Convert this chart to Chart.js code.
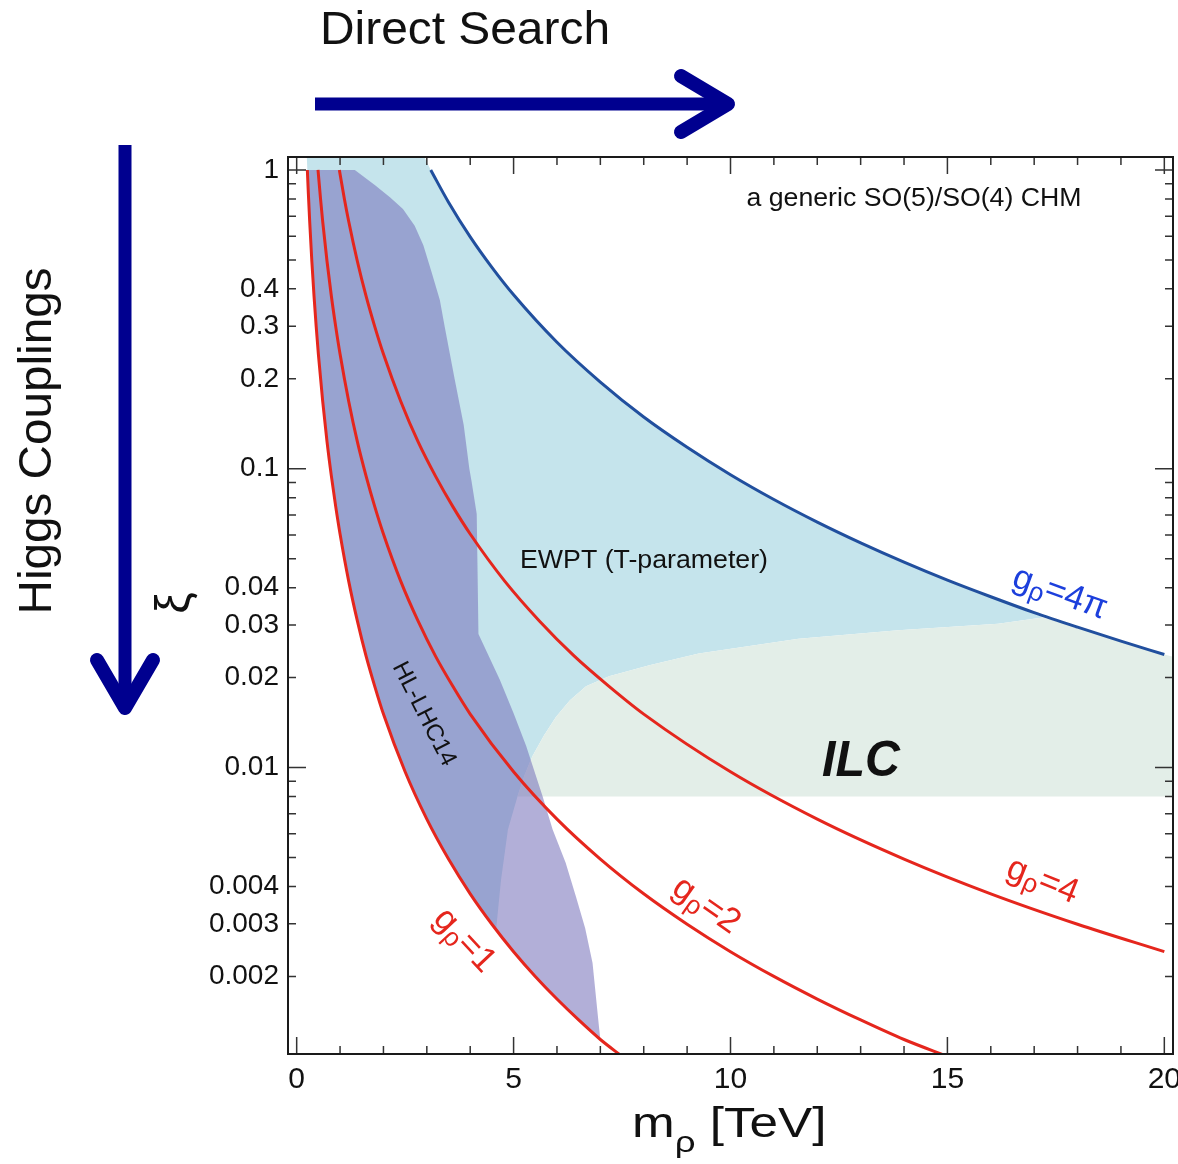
<!DOCTYPE html>
<html>
<head>
<meta charset="utf-8">
<script src="https://cdn.jsdelivr.net/npm/chart.js@4.4.0/dist/chart.umd.min.js"></script>
<style>
  html, body { margin: 0; padding: 0; background: #fff; }
  canvas { display: block; }
</style>
</head>
<body>
<canvas id="chm-graph" width="1178" height="1164"></canvas>
<script>
// axis ticks
var xTicks = [0, 1, 2, 3, 4, 5, 6, 7, 8, 9, 10, 11, 12, 13, 14, 15, 16, 17, 18, 19, 20];
var xLabelled = [0, 5, 10, 15, 20];
var yTicks = [1, 0.9, 0.8, 0.7, 0.6, 0.5, 0.4, 0.3, 0.2,
    0.1, 0.09, 0.08, 0.07, 0.06, 0.05, 0.04, 0.03, 0.02,
    0.01, 0.009, 0.008, 0.007, 0.006, 0.005, 0.004, 0.003, 0.002];
var yMajor = [1, 0.1, 0.01];
var yLabelled = [1, 0.4, 0.3, 0.2, 0.1, 0.04, 0.03, 0.02, 0.01, 0.004, 0.003, 0.002];

// g_rho = 1, 2, 4 and 4pi lines (m_rho in TeV, xi)
var g1Mass = [0.246, 0.27, 0.3, 0.35, 0.4, 0.45, 0.5, 0.6, 0.7, 0.8, 0.9, 1.0, 1.2, 1.4, 1.6, 1.8, 2.0, 2.5, 3.0, 3.5, 4.0, 4.5, 5.0, 5.5, 6.0, 6.5, 7.0, 7.5];
var g1Xi = [1.0, 0.83, 0.672, 0.494, 0.378, 0.299, 0.242, 0.168, 0.123, 0.0945, 0.0747, 0.0605, 0.042, 0.0309, 0.0236, 0.0187, 0.0151, 0.00968, 0.00672, 0.00494, 0.00378, 0.00299, 0.00242, 0.0020, 0.00168, 0.00143, 0.00123, 0.00108];
var g2Mass = [0.492, 0.55, 0.6, 0.7, 0.8, 0.9, 1.0, 1.2, 1.4, 1.6, 1.8, 2.0, 2.4, 2.8, 3.2, 3.6, 4.0, 5, 6, 7, 8, 9, 10, 11, 12, 13, 14, 15];
var g2Xi = [1.0, 0.80, 0.672, 0.494, 0.378, 0.299, 0.242, 0.168, 0.123, 0.0945, 0.0747, 0.0605, 0.042, 0.0309, 0.0236, 0.0187, 0.0151, 0.00968, 0.00672, 0.00494, 0.00378, 0.00299, 0.00242, 0.0020, 0.00168, 0.00143, 0.00123, 0.00108];
var g4Mass = [0.984, 1.1, 1.2, 1.4, 1.6, 1.8, 2.0, 2.4, 2.8, 3.2, 3.6, 4.0, 4.8, 5.6, 6.4, 7.2, 8, 10, 12, 14, 16, 18, 20];
var g4Xi = [1.0, 0.80, 0.672, 0.494, 0.378, 0.299, 0.242, 0.168, 0.123, 0.0945, 0.0747, 0.0605, 0.042, 0.0309, 0.0236, 0.0187, 0.0151, 0.00968, 0.00672, 0.00494, 0.00378, 0.00299, 0.00242];
var g4piMass = [3.09, 3.5, 4, 4.5, 5, 6, 7, 8, 9, 10, 11, 12, 13, 14, 15, 16, 17, 18, 19, 20];
var g4piXi = [1.0, 0.78, 0.597, 0.472, 0.382, 0.265, 0.195, 0.149, 0.118, 0.0955, 0.0789, 0.0663, 0.0565, 0.0487, 0.0424, 0.0373, 0.033, 0.0295, 0.0265, 0.0239];

// EWPT (T-parameter) excluded region outline
var ewptMass = [0.234, 2.94, 3.09, 3.5, 4, 4.5, 5, 6, 7, 8, 9, 10, 11, 12, 13, 14, 15, 16, 17, 17.2,
    16.17, 13.87, 11.57, 9.27, 8.13, 7.73, 7.2, 6.67, 6.3, 5.98, 5.7, 5.43, 5.25, 5.09, 4.87, 4.71, 4.6,
    4.0, 3.5, 3.0, 2.5, 2.0, 1.6, 1.2, 1.0, 0.8, 0.6, 0.5, 0.4, 0.3, 0.246];
var ewptXi = [1.105, 1.105, 1.0, 0.78, 0.597, 0.472, 0.382, 0.265, 0.195, 0.149, 0.118, 0.0955, 0.0789, 0.0663, 0.0565, 0.0487, 0.0424, 0.0373, 0.033, 0.0318,
    0.0303, 0.0288, 0.0270, 0.0241, 0.0220, 0.0212, 0.0202, 0.0187, 0.0168, 0.0148, 0.0128, 0.0109, 0.0094, 0.0080, 0.0062, 0.0042, 0.0029,
    0.00378, 0.00494, 0.00672, 0.00968, 0.0151, 0.0236, 0.042, 0.0605, 0.0945, 0.168, 0.242, 0.378, 0.672, 1.0];

// ILC reach outline
var ilcMass = [5.09, 20.2, 20.2, 20, 19, 18, 17.2, 16.17, 13.87, 11.57, 9.27, 8.13, 7.73, 7.2, 6.67, 6.3, 5.98, 5.7, 5.43, 5.25];
var ilcXi = [0.0080, 0.0080, 0.0235, 0.0239, 0.0265, 0.0295, 0.0318, 0.0303, 0.0288, 0.0270, 0.0241, 0.0220, 0.0212, 0.0202, 0.0187, 0.0168, 0.0148, 0.0128, 0.0109, 0.0094];

// HL-LHC14 reach outline
var lhcMass = [0.246, 0.27, 0.3, 0.35, 0.4, 0.45, 0.5, 0.6, 0.7, 0.8, 0.9, 1.0, 1.2, 1.4, 1.6, 1.8, 2.0, 2.5, 3.0, 3.5, 4.0, 4.5, 5.0, 5.5, 6.0, 6.5, 7.0,
    6.97, 6.9, 6.82, 6.65, 6.44, 6.2, 5.9, 5.67, 5.29, 5.0, 4.68, 4.19, 4.17, 4.15, 4.03, 3.98, 3.85, 3.64, 3.41, 3.3, 3.1, 2.92, 2.72, 2.45, 2.15, 1.8, 1.34];
var lhcXi = [1.0, 0.83, 0.672, 0.494, 0.378, 0.299, 0.242, 0.168, 0.123, 0.0945, 0.0747, 0.0605, 0.042, 0.0309, 0.0236, 0.0187, 0.0151, 0.00968, 0.00672, 0.00494, 0.00378, 0.00299, 0.00242, 0.0020, 0.00168, 0.00143, 0.00123,
    0.00135, 0.0017, 0.00222, 0.0029, 0.00369, 0.0048, 0.0062, 0.0080, 0.0118, 0.0152, 0.0197, 0.028, 0.045, 0.0706, 0.091, 0.1, 0.14, 0.2, 0.3, 0.367, 0.46, 0.56, 0.65, 0.74, 0.81, 0.89, 1.0];

function pts(xs, ys) {
    return xs.map(function(x, i) { return { x: x, y: ys[i] }; });
}

var FONT = "'Liberation Sans', Arial, Helvetica, sans-serif";
var RED = '#e5261d';

function curve(label, xs, ys, color) {
    return {
        label: label,
        data: pts(xs, ys),
        borderColor: color,
        borderWidth: 3,
        pointRadius: 0,
        fill: false,
        cubicInterpolationMode: 'monotone',
        order: 0
    };
}

function area(label, xs, ys, color, order) {
    return {
        label: label,
        data: pts(xs, ys),
        borderColor: 'rgba(0,0,0,0)',
        borderWidth: 0,
        backgroundColor: color,
        pointRadius: 0,
        tension: 0,
        fill: 'shape',
        order: order
    };
}

// text helper: draws s centred at (x, y) rotated by deg, squeezed/stretched to width w if given
function text(c, s, x, y, font, color, deg, w) {
    c.save();
    c.font = font;
    c.fillStyle = color;
    c.textAlign = 'center';
    c.textBaseline = 'middle';
    c.translate(x, y);
    c.rotate((deg || 0) * Math.PI / 180);
    if (w) c.scale(w / c.measureText(s).width, 1);
    c.fillText(s, 0, 0);
    c.restore();
}

// "g" with subscript rho and a suffix, centred at (x, y)
function gLabel(c, suffix, x, y, size, color, deg) {
    var sub = Math.round(size * 0.74);
    c.save();
    c.fillStyle = color;
    c.textBaseline = 'alphabetic';
    c.textAlign = 'left';
    c.translate(x, y);
    c.rotate(deg * Math.PI / 180);
    c.font = size + 'px ' + FONT;
    var wg = c.measureText('g').width;
    var ws = c.measureText(suffix).width;
    c.font = sub + 'px ' + FONT;
    var wr = c.measureText('\u03c1').width;
    var x0 = -(wg + wr + ws) / 2;
    var base = size * 0.3;
    c.font = size + 'px ' + FONT;
    c.fillText('g', x0, base);
    c.font = sub + 'px ' + FONT;
    c.fillText('\u03c1', x0 + wg, base + size * 0.16);
    c.font = size + 'px ' + FONT;
    c.fillText(suffix, x0 + wg + wr, base);
    c.restore();
}

var framePlugin = {
    id: 'frame',
    afterDatasetsDraw: function(chart) {
        var c = chart.ctx, a = chart.chartArea;
        var xs = chart.scales.x, ys = chart.scales.y;
        c.save();
        c.strokeStyle = '#333';
        c.lineWidth = 1.5;
        c.beginPath();
        xTicks.forEach(function(v) {
            var px = xs.getPixelForValue(v);
            var len = xLabelled.indexOf(v) >= 0 ? 17 : 8;
            c.moveTo(px, a.bottom); c.lineTo(px, a.bottom - len);
            c.moveTo(px, a.top); c.lineTo(px, a.top + len);
        });
        yTicks.forEach(function(v) {
            var py = ys.getPixelForValue(v);
            var len = yMajor.indexOf(v) >= 0 ? 18 : 8;
            c.moveTo(a.left, py); c.lineTo(a.left + len, py);
            c.moveTo(a.right, py); c.lineTo(a.right - len, py);
        });
        c.stroke();
        c.lineWidth = 2;
        c.strokeStyle = '#1a1a1a';
        c.strokeRect(a.left, a.top, a.right - a.left, a.bottom - a.top);
        c.restore();
    }
};

var notesPlugin = {
    id: 'notes',
    afterDatasetsDraw: function(chart) {
        var c = chart.ctx;
        var xs = chart.scales.x, ys = chart.scales.y;
        function X(v) { return xs.getPixelForValue(v); }
        function Y(v) { return ys.getPixelForValue(v); }

        // labels inside the plot
        text(c, 'a generic SO(5)/SO(4) CHM', 914, 199, '25px ' + FONT, '#111', 0, 335);
        text(c, 'EWPT (T-parameter)', 644, 561, '25px ' + FONT, '#111', 0, 248);
        text(c, 'ILC', 861, 762, 'italic bold 50px ' + FONT, '#111', 0, 78);
        text(c, 'HL-LHC14', 424, 714, '24px ' + FONT, '#111', 63);
        gLabel(c, '=1', X(3.88), Y(0.00265), 35, RED, 47);
        gLabel(c, '=2', X(9.45), Y(0.00347), 35, RED, 35);
        gLabel(c, '=4', X(17.2), Y(0.0042), 35, RED, 22);
        gLabel(c, '=4\u03c0', X(17.6), Y(0.0385), 35, '#1c3fdc', 20);

        // axis titles
        c.save();
        c.font = '42px ' + FONT;
        c.fillStyle = '#111';
        c.textBaseline = 'alphabetic';
        c.translate(632, 1137);
        c.scale(1.22, 1);
        c.fillText('m', 0, 0);
        var wm = c.measureText('m').width;
        c.font = '30px ' + FONT;
        c.fillText('\u03c1', wm, 15);
        var wr = c.measureText('\u03c1').width;
        c.font = '42px ' + FONT;
        c.fillText(' [TeV]', wm + wr, 0);
        c.restore();
        text(c, '\u03be', 176, 603, '48px ' + FONT, '#111', -90);

        // direction arrows
        c.save();
        c.strokeStyle = '#00008f';
        c.lineWidth = 13;
        c.lineCap = 'butt';
        c.beginPath();
        c.moveTo(315, 104); c.lineTo(726, 104);
        c.moveTo(125, 145); c.lineTo(125, 706);
        c.stroke();
        c.lineWidth = 14;
        c.lineCap = 'round';
        c.lineJoin = 'round';
        c.beginPath();
        c.moveTo(681, 76); c.lineTo(728, 104); c.lineTo(681, 132);
        c.moveTo(97, 660); c.lineTo(125, 708); c.lineTo(153, 660);
        c.stroke();
        c.restore();
        text(c, 'Direct Search', 465, 31, '46px ' + FONT, '#111', 0, 290);
        text(c, 'Higgs Couplings', 38, 441, '46px ' + FONT, '#111', -90, 347);
    }
};

var ctx = document.getElementById('chm-graph').getContext('2d');
var chm_graph = new Chart(ctx, {
    type: 'line',
    data: {
        datasets: [
            area('EWPT (T-parameter)', ewptMass, ewptXi, '#c5e4ec', 3),
            area('ILC', ilcMass, ilcXi, '#e3eee8', 2),
            area('HL-LHC14', lhcMass, lhcXi, 'rgba(118,112,186,0.56)', 1),
            curve('g=1', g1Mass, g1Xi, RED),
            curve('g=2', g2Mass, g2Xi, RED),
            curve('g=4', g4Mass, g4Xi, RED),
            curve('g=4pi', g4piMass, g4piXi, '#214f9e')
        ]
    },
    options: {
        responsive: false,
        animation: false,
        layout: { padding: { top: 157, right: 5, left: 0, bottom: 0 } },
        plugins: {
            legend: { display: false },
            tooltip: { enabled: false }
        },
        scales: {
            x: {
                type: 'linear',
                min: -0.2,
                max: 20.2,
                grid: { display: false, drawTicks: false },
                border: { display: false },
                afterBuildTicks: function(s) {
                    s.ticks = xTicks.map(function(v) { return { value: v }; });
                },
                afterFit: function(s) {
                    s.height = 110;
                    s.paddingLeft = 0;
                    s.paddingRight = 0;
                },
                ticks: {
                    autoSkip: false,
                    maxRotation: 0,
                    padding: 8,
                    color: '#111',
                    font: { family: FONT, size: 30 },
                    callback: function(v) {
                        return xLabelled.indexOf(v) >= 0 ? String(v) : '';
                    }
                }
            },
            y: {
                type: 'logarithmic',
                min: 0.0011,
                max: 1.105,
                grid: { display: false, drawTicks: false },
                border: { display: false },
                afterBuildTicks: function(s) {
                    s.ticks = yTicks.map(function(v) { return { value: v }; });
                },
                afterFit: function(s) {
                    s.width = 288;
                    s.paddingTop = 0;
                    s.paddingBottom = 0;
                },
                ticks: {
                    autoSkip: false,
                    padding: 9,
                    color: '#111',
                    font: { family: FONT, size: 28 },
                    callback: function(v) {
                        return yLabelled.indexOf(v) >= 0 ? String(v) : '';
                    }
                }
            }
        }
    },
    plugins: [framePlugin, notesPlugin]
});
</script>
</body>
</html>
